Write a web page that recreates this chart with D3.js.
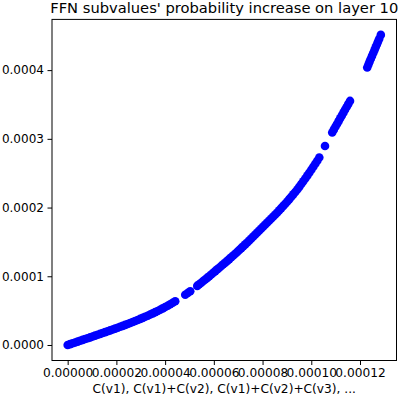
<!DOCTYPE html>
<html>
<head>
<meta charset="utf-8">
<script src="https://cdn.jsdelivr.net/npm/d3@7"></script>
<style>
  html, body { margin: 0; padding: 0; background: #fff; }
  svg { display: block; }
  text { font-family: "DejaVu Sans", sans-serif; fill: #000; }
</style>
</head>
<body>
<script>
// Cumulative values (x: C(v1), C(v1)+C(v2), ... ; y: probability increase)
const xValues = [
  0.00e-6, 1.03e-6, 2.05e-6, 3.08e-6, 4.11e-6, 5.13e-6, 6.16e-6, 7.19e-6, 8.21e-6, 9.24e-6,
  10.27e-6, 11.29e-6, 12.32e-6, 13.35e-6, 14.37e-6, 15.40e-6, 16.43e-6, 17.45e-6, 18.48e-6, 19.51e-6,
  20.54e-6, 21.56e-6, 22.59e-6, 23.62e-6, 24.64e-6, 25.67e-6, 26.70e-6, 27.72e-6, 28.75e-6, 29.78e-6,
  30.80e-6, 31.83e-6, 32.86e-6, 33.88e-6, 34.91e-6, 35.94e-6, 36.96e-6, 37.99e-6, 39.02e-6, 40.04e-6,
  41.07e-6, 42.10e-6, 43.12e-6, 44.15e-6,
  48.26e-6, 49.28e-6, 50.31e-6,
  53.19e-6, 54.01e-6, 54.83e-6, 55.65e-6, 56.47e-6, 57.29e-6, 58.11e-6, 58.94e-6, 59.76e-6, 60.58e-6,
  61.40e-6, 62.22e-6, 63.04e-6, 63.86e-6, 64.69e-6, 65.51e-6, 66.33e-6, 67.15e-6, 67.97e-6, 68.79e-6,
  69.61e-6, 70.44e-6, 71.26e-6, 72.08e-6, 72.90e-6, 73.72e-6, 74.54e-6, 75.36e-6, 76.18e-6, 77.01e-6,
  77.83e-6, 78.65e-6, 79.47e-6, 80.29e-6, 81.11e-6, 81.93e-6, 82.76e-6, 83.58e-6, 84.40e-6, 85.22e-6,
  86.04e-6, 86.86e-6, 87.68e-6, 88.51e-6, 89.33e-6, 90.15e-6, 90.97e-6, 91.79e-6, 92.61e-6, 93.43e-6,
  94.26e-6, 95.08e-6, 95.90e-6, 96.72e-6, 97.54e-6, 98.36e-6, 99.18e-6, 100.01e-6, 100.83e-6, 101.65e-6,
  102.47e-6, 103.29e-6,
  105.63e-6,
  108.59e-6, 109.25e-6, 109.90e-6, 110.56e-6, 111.22e-6, 111.87e-6, 112.53e-6, 113.19e-6, 113.84e-6, 114.50e-6,
  115.16e-6, 115.90e-6,
  122.96e-6, 123.46e-6, 123.95e-6, 124.44e-6, 124.93e-6, 125.43e-6, 125.92e-6, 126.41e-6, 126.91e-6, 127.40e-6,
  127.89e-6, 128.55e-6
];
const yValues = [
  0.00e-6, 1.24e-6, 2.47e-6, 3.71e-6, 4.95e-6, 6.19e-6, 7.42e-6, 8.66e-6, 9.90e-6, 11.14e-6,
  12.37e-6, 13.61e-6, 14.85e-6, 16.12e-6, 17.39e-6, 18.67e-6, 19.94e-6, 21.25e-6, 22.56e-6, 23.87e-6,
  25.18e-6, 26.53e-6, 27.87e-6, 29.22e-6, 30.57e-6, 32.02e-6, 33.48e-6, 34.93e-6, 36.39e-6, 37.95e-6,
  39.52e-6, 41.08e-6, 42.65e-6, 44.36e-6, 46.07e-6, 47.78e-6, 49.49e-6, 51.38e-6, 53.27e-6, 55.17e-6,
  57.06e-6, 59.24e-6, 61.43e-6, 63.61e-6,
  73.22e-6, 75.69e-6, 78.24e-6,
  86.03e-6, 88.35e-6, 90.68e-6, 93.01e-6, 95.34e-6, 97.67e-6, 100.11e-6, 102.58e-6, 105.06e-6, 107.53e-6,
  110.01e-6, 112.48e-6, 114.96e-6, 117.43e-6, 119.90e-6, 122.38e-6, 124.96e-6, 127.58e-6, 130.20e-6, 132.82e-6,
  135.44e-6, 138.17e-6, 140.94e-6, 143.70e-6, 146.47e-6, 149.24e-6, 152.11e-6, 155.02e-6, 157.93e-6, 160.84e-6,
  163.76e-6, 166.67e-6, 169.58e-6, 172.49e-6, 175.40e-6, 178.31e-6, 181.22e-6, 184.13e-6, 187.04e-6, 189.96e-6,
  192.87e-6, 196.00e-6, 199.20e-6, 202.40e-6, 205.60e-6, 208.81e-6, 212.23e-6, 215.72e-6, 219.21e-6, 222.71e-6,
  226.21e-6, 230.13e-6, 234.21e-6, 238.28e-6, 242.36e-6, 246.43e-6, 250.73e-6, 255.10e-6, 259.46e-6, 263.83e-6,
  268.19e-6, 272.78e-6,
  289.66e-6,
  309.32e-6, 313.39e-6, 317.47e-6, 321.69e-6, 325.76e-6, 329.84e-6, 334.06e-6, 338.14e-6, 342.21e-6, 346.43e-6,
  350.51e-6, 355.17e-6,
  403.93e-6, 408.15e-6, 412.37e-6, 416.45e-6, 420.67e-6, 424.89e-6, 428.97e-6, 433.19e-6, 437.26e-6, 441.48e-6,
  445.70e-6, 451.24e-6
];
const xTicks = [0, 0.00002, 0.00004, 0.00006, 0.00008, 0.00010, 0.00012];
const xTickLabels = ["0.00000", "0.00002", "0.00004", "0.00006", "0.00008", "0.00010", "0.00012"];
const yTicks = [0, 0.0001, 0.0002, 0.0003, 0.0004];
const yTickLabels = ["0.0000", "0.0001", "0.0002", "0.0003", "0.0004"];
const titleText = "FFN subvalues' probability increase on layer 10";
const xLabelText = "C(v1), C(v1)+C(v2), C(v1)+C(v2)+C(v3), ...";

const W = 399, H = 396;
const mLeft = 52, mRight = 396.5, mTop = 19.4, mBottom = 360.5;
const tickFont = "12.2px", yTickFont = "12px", titleFont = "14.7px";

const points = xValues.map((x, i) => ({ x, y: yValues[i] }));

const xExt = d3.extent(xValues), yExt = d3.extent(yValues);
const xPad = (xExt[1] - xExt[0]) * 0.05, yPad = (yExt[1] - yExt[0]) * 0.05;
const xScale = d3.scaleLinear().domain([xExt[0] - xPad, xExt[1] + xPad]).range([mLeft, mRight]);
const yScale = d3.scaleLinear().domain([yExt[0] - yPad, yExt[1] + yPad]).range([mBottom, mTop]);

const svg = d3.select("body").append("svg").attr("width", W).attr("height", H);

// points
svg.append("g").selectAll("circle").data(points).join("circle")
  .attr("cx", d => xScale(d.x))
  .attr("cy", d => yScale(d.y))
  .attr("r", 4.3)
  .attr("fill", "#0000ff");

// axes
const xAxis = d3.axisBottom(xScale).tickValues(xTicks)
  .tickFormat((d, i) => xTickLabels[i]).tickSize(4.5).tickPadding(3.3);
const gx = svg.append("g").attr("transform", `translate(0,${mBottom})`).call(xAxis);
gx.select(".domain").remove();
gx.selectAll("line").attr("stroke", "#000").attr("stroke-width", 1);
gx.selectAll("text").attr("font-size", tickFont).attr("font-family", "DejaVu Sans");

const yAxis = d3.axisLeft(yScale).tickValues(yTicks)
  .tickFormat((d, i) => yTickLabels[i]).tickSize(4.5).tickPadding(3.6);
const gy = svg.append("g").attr("transform", `translate(${mLeft},0)`).call(yAxis);
gy.select(".domain").remove();
gy.selectAll("line").attr("stroke", "#000").attr("stroke-width", 1);
gy.selectAll("text").attr("font-size", yTickFont).attr("font-family", "DejaVu Sans");

// frame
svg.append("rect")
  .attr("x", mLeft).attr("y", mTop)
  .attr("width", mRight - mLeft).attr("height", mBottom - mTop)
  .attr("fill", "none").attr("stroke", "#000").attr("stroke-width", 1);

// title
svg.append("text")
  .attr("x", (mLeft + mRight) / 2).attr("y", 13)
  .attr("text-anchor", "middle")
  .attr("font-size", titleFont)
  .text(titleText);

// x label
svg.append("text")
  .attr("x", (mLeft + mRight) / 2).attr("y", 393)
  .attr("text-anchor", "middle")
  .attr("font-size", tickFont)
  .text(xLabelText);
</script>
</body>
</html>
